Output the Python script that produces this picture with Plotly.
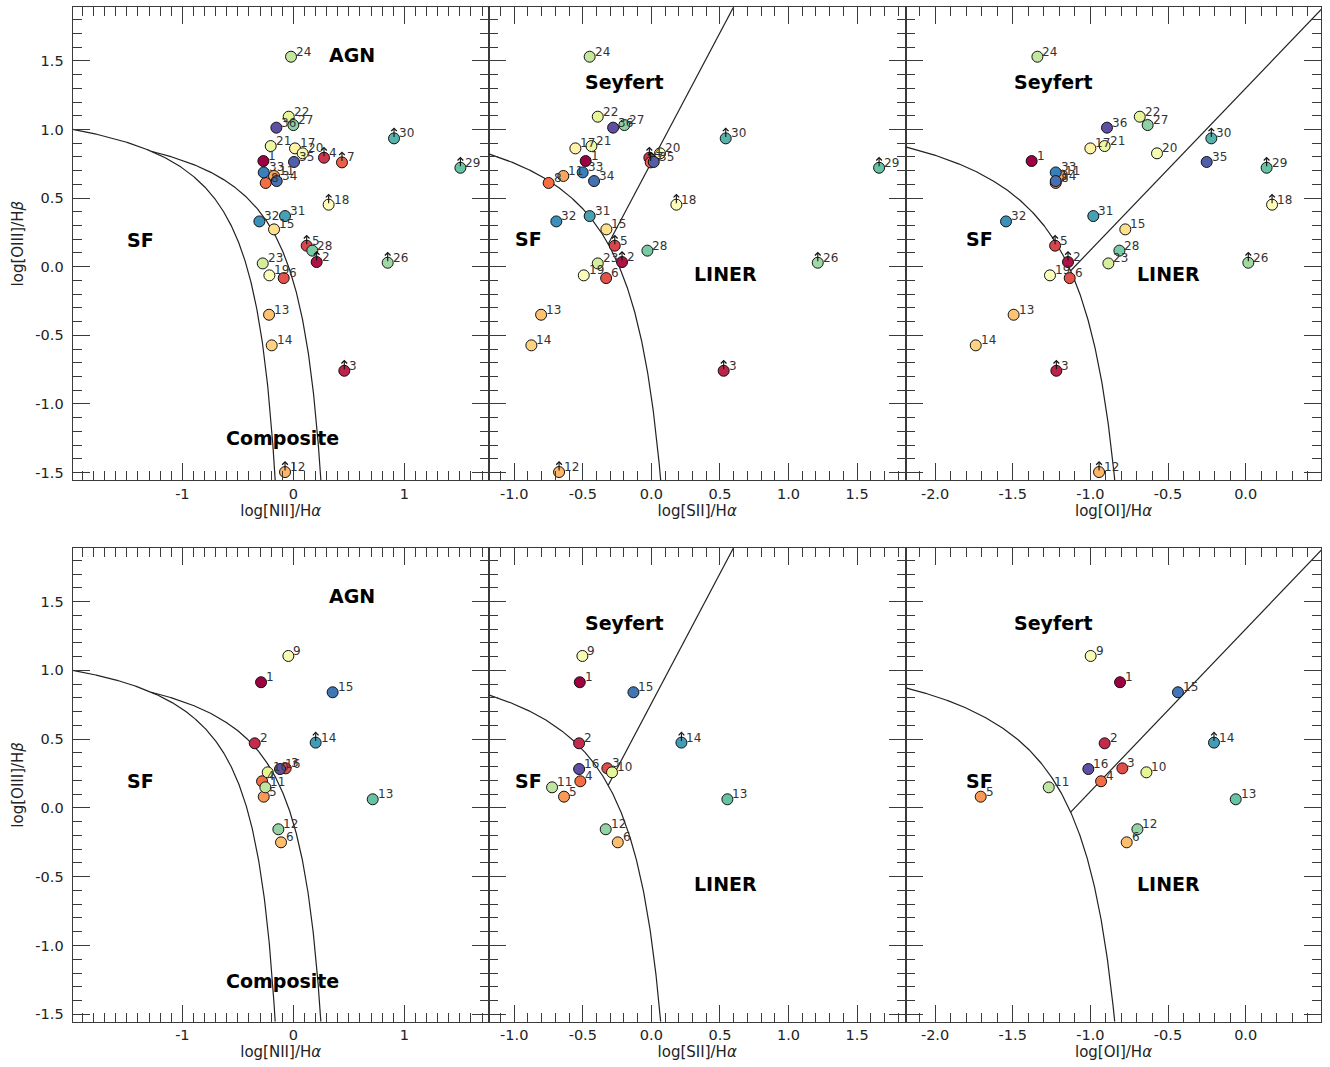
import numpy as np
import plotly.graph_objects as go

W, H = 1330, 1067
FONT = "DejaVu Sans"

# ---------------- data: top row (36-object sample) ----------------
top_ids = [1, 2, 3, 4, 5, 6, 7, 8, 11, 12, 13, 14, 15, 17, 18, 19, 20, 21, 22, 23, 24,
           26, 27, 28, 29, 30, 31, 32, 33, 34, 35, 36]
top_oiii = [0.770, 0.034, -0.758, 0.794, 0.153, -0.083, 0.760, 0.610, 0.661, -1.496, -0.350,
            -0.573, 0.272, 0.862, 0.452, -0.063, 0.826, 0.879, 1.093, 0.024, 1.530,
            0.029, 1.032, 0.117, 0.721, 0.935, 0.369, 0.330, 0.687, 0.624, 0.763, 1.013]
top_nii = [-0.270, 0.210, 0.459, 0.276, 0.120, -0.087, 0.438, -0.249, -0.174, -0.075, -0.219,
           -0.195, -0.174, 0.015, 0.318, -0.216, 0.084, -0.204, -0.042, -0.276, -0.021,
           0.850, 0.000, 0.171, 1.505, 0.907, -0.075, -0.306, -0.267, -0.150, 0.006, -0.153]
top_sii = [-0.479, -0.214, 0.527, -0.015, -0.267, -0.330, -0.005, -0.749, -0.642, -0.673, -0.804,
           -0.875, -0.328, -0.554, 0.182, -0.493, 0.063, -0.437, -0.391, -0.391, -0.450,
           1.213, -0.197, -0.029, 1.660, 0.542, -0.450, -0.693, -0.501, -0.418, 0.017, -0.279]
top_oi = [-1.378, -1.144, -1.219, None, -1.227, -1.133, None, -1.223, -1.193, -0.944, -1.494,
          -1.738, -0.775, -1.000, 0.170, -1.260, -0.571, -0.908, -0.682, -0.884, -1.341,
          0.017, -0.631, -0.813, 0.135, -0.221, -0.981, -1.543, -1.223, -1.223, -0.251, -0.893]
top_limits = [2, 3, 4, 5, 7, 12, 18, 26, 29, 30]
top_ncolors = 36

# ---------------- data: bottom row (16-object sample) ----------------
bot_ids = [1, 2, 3, 4, 5, 6, 9, 10, 11, 12, 13, 14, 15, 16]
bot_oiii = [0.914, 0.470, 0.288, 0.194, 0.082, -0.250, 1.105, 0.259, 0.150, -0.155, 0.063,
            0.475, 0.841, 0.283]
bot_nii = [-0.291, -0.348, -0.069, -0.282, -0.267, -0.111, -0.045, -0.231, -0.252, -0.135,
           0.715, 0.201, 0.354, -0.120]
bot_sii = [-0.522, -0.527, -0.321, -0.518, -0.637, -0.245, -0.503, -0.287, -0.724, -0.333,
           0.554, 0.219, -0.131, -0.527]
bot_oi = [-0.809, -0.908, -0.794, -0.931, -1.706, -0.766, -0.998, -0.639, -1.268, -0.697,
          -0.064, -0.204, -0.436, -1.013]
bot_limits = [14]
bot_ncolors = 16

# ---------------- axes ----------------
y_range = [-1.554, 1.890]
y_tickvals = [-1.5, -1.0, -0.5, 0.0, 0.5, 1.0, 1.5]
y_ticktext = ["-1.5", "-1.0", "-0.5", "0.0", "0.5", "1.0", "1.5"]

x_ranges = [[-1.988, 1.760], [-1.186, 1.854], [-2.189, 0.487]]
x_tickvals = [[-1, 0, 1], [-1.0, -0.5, 0.0, 0.5, 1.0, 1.5], [-2.0, -1.5, -1.0, -0.5, 0.0]]
x_ticktext = [["-1", "0", "1"], ["-1.0", "-0.5", "0.0", "0.5", "1.0", "1.5"],
              ["-2.0", "-1.5", "-1.0", "-0.5", "0.0"]]
x_titles = ["log[NII]/H<i>α</i>", "log[SII]/H<i>α</i>", "log[OI]/H<i>α</i>"]
y_title = "log[OIII]/H<i>β</i>"

region_labels = [
    # (panel column, text, x, y_top, y_bottom)
    (0, "AGN", 0.525, 1.542, 1.542),
    (0, "SF", -1.375, 0.194, 0.194),
    (0, "Composite", -0.096, -1.251, -1.258),
    (1, "Seyfert", -0.199, 1.346, 1.346),
    (1, "SF", -0.897, 0.199, 0.199),
    (1, "LINER", 0.537, -0.053, -0.555),
    (2, "Seyfert", -1.240, 1.346, 1.346),
    (2, "SF", -1.715, 0.199, 0.199),
    (2, "LINER", -0.496, -0.053, -0.555),
]

SPECTRAL = [(158, 1, 66), (213, 62, 79), (244, 109, 67), (253, 174, 97), (254, 224, 139),
            (255, 255, 191), (230, 245, 152), (171, 221, 164), (102, 194, 165), (50, 136, 189),
            (94, 79, 162)]


def spectral(t):
    pos = t * 10
    i = min(int(pos), 9)
    f = pos - i
    c = [round(SPECTRAL[i][k] + (SPECTRAL[i + 1][k] - SPECTRAL[i][k]) * f) for k in range(3)]
    return f"rgb({c[0]},{c[1]},{c[2]})"


def crossing(f, g, lo, hi):
    xs = np.linspace(lo, hi, 40001)
    return xs[np.argmin(np.abs(f(xs) - g(xs)))]


# demarcation curves (Kauffmann 2003, Kewley 2001/2006)
def curves(col, xmin, ymin):
    out = []
    if col == 0:
        k03 = lambda x: 0.61 / (x - 0.05) + 1.3
        k01 = lambda x: 0.61 / (x - 0.47) + 1.19
        xe = 0.05 + 0.61 / (ymin - 1.3)
        x = np.linspace(xmin, xe, 500)
        out.append((x, k03(x)))
        x0 = crossing(k03, k01, -1.6, -1.0)
        xe = 0.47 + 0.61 / (ymin - 1.19)
        x = np.linspace(x0, xe, 500)
        out.append((x, k01(x)))
    elif col == 1:
        k01 = lambda x: 0.72 / (x - 0.32) + 1.30
        sl = lambda x: 1.89 * x + 0.76
        xe = 0.32 + 0.72 / (ymin - 1.30)
        x = np.linspace(xmin, xe, 500)
        out.append((x, k01(x)))
        x0 = crossing(sl, k01, -0.6, 0.0)
        x = np.array([x0, (y_range[1] - 0.76) / 1.89 + 0.01])
        out.append((x, sl(x)))
    else:
        k01 = lambda x: 0.73 / (x + 0.59) + 1.33
        sl = lambda x: 1.18 * x + 1.30
        xe = -0.59 + 0.73 / (ymin - 1.33)
        x = np.linspace(xmin, xe, 500)
        out.append((x, k01(x)))
        x0 = crossing(sl, k01, -1.4, -0.9)
        x = np.array([x0, 0.6])
        out.append((x, sl(x)))
    return out


x_domains = [(72.7 / W, 488.7 / W), (488.7 / W, 905.7 / W), (905.7 / W, 1321.3 / W)]
y_domains = [((H - 480.0) / H, (H - 7.3) / H), ((H - 1021.7) / H, (H - 548.0) / H)]

rows = [
    dict(ids=top_ids, y=top_oiii, xs=[top_nii, top_sii, top_oi], lim=top_limits, n=top_ncolors),
    dict(ids=bot_ids, y=bot_oiii, xs=[bot_nii, bot_sii, bot_oi], lim=bot_limits, n=bot_ncolors),
]

fig = go.Figure()
layout = {}
AX = "#3a3a3a"
ARROW_LEN = 0.08

for r, row in enumerate(rows):
    for c in range(3):
        k = r * 3 + c + 1
        xa = "x" if k == 1 else f"x{k}"
        ya = "y" if k == 1 else f"y{k}"
        xr = x_ranges[c]

        common = dict(showline=True, linecolor=AX, linewidth=1.3, mirror="allticks",
                      ticks="inside", ticklen=17, tickwidth=1.3, tickcolor=AX,
                      showgrid=False, zeroline=False, automargin=False,
                      tickfont=dict(family=FONT, size=14.5, color="#222"),
                      minor=dict(ticks="inside", ticklen=9, tickwidth=1.2, tickcolor=AX,
                                 tickmode="linear", tick0=0, dtick=0.1, showgrid=False))
        layout["xaxis" if k == 1 else f"xaxis{k}"] = dict(
            common, domain=list(x_domains[c]), anchor=ya, range=xr,
            tickmode="array", tickvals=x_tickvals[c], ticktext=x_ticktext[c],
            title=dict(text=x_titles[c], font=dict(family=FONT, size=15, color="#222"), standoff=1))
        ydict = dict(common, domain=list(y_domains[r]), anchor=xa, range=y_range,
                     tickmode="array", tickvals=y_tickvals, ticktext=y_ticktext,
                     showticklabels=(c == 0), ticklabelstandoff=5)
        if c == 0:
            ydict["title"] = dict(text=y_title, font=dict(family=FONT, size=15, color="#222"), standoff=8)
        layout["yaxis" if k == 1 else f"yaxis{k}"] = ydict

        for cx, cy in curves(c, xr[0], y_range[0]):
            fig.add_trace(go.Scatter(x=cx, y=cy, mode="lines", line=dict(color="#222", width=1.2),
                                     xaxis=xa, yaxis=ya, showlegend=False, hoverinfo="skip"))

        pts = [(i, x, y) for i, x, y in zip(row["ids"], row["xs"][c], row["y"]) if x is not None]
        fig.add_trace(go.Scatter(
            x=[p[1] for p in pts], y=[p[2] for p in pts], mode="markers",
            marker=dict(size=11, color=[spectral((p[0] - 1) / (row["n"] - 1)) for p in pts],
                        line=dict(color="#111", width=1)),
            xaxis=xa, yaxis=ya, showlegend=False, hoverinfo="skip"))

        for i, x, y in pts:
            if i in row["lim"]:
                fig.add_annotation(x=x, y=y + ARROW_LEN, ax=x, ay=y, xref=xa, yref=ya,
                                   axref=xa, ayref=ya, text="", showarrow=True, arrowhead=4,
                                   arrowsize=1.0, arrowwidth=1.1, arrowcolor="#111",
                                   standoff=0, startstandoff=0)
            fig.add_annotation(x=x, y=y, xref=xa, yref=ya, text=str(i), showarrow=False,
                               xanchor="left", yanchor="bottom", xshift=3, yshift=-4,
                               font=dict(family=FONT, size=12, color="#333"))

        for col, txt, lx, ly_top, ly_bot in region_labels:
            if col == c:
                fig.add_annotation(x=lx, y=ly_top if r == 0 else ly_bot, xref=xa, yref=ya,
                                   text=f"<b>{txt}</b>", showarrow=False,
                                   xanchor="center", yanchor="middle",
                                   font=dict(family=FONT, size=19, color="black"))

fig.update_layout(width=W, height=H, margin=dict(l=0, r=0, t=0, b=0),
                  paper_bgcolor="white", plot_bgcolor="white",
                  font=dict(family=FONT, color="#222"), **layout)

fig.write_html("out.html")
